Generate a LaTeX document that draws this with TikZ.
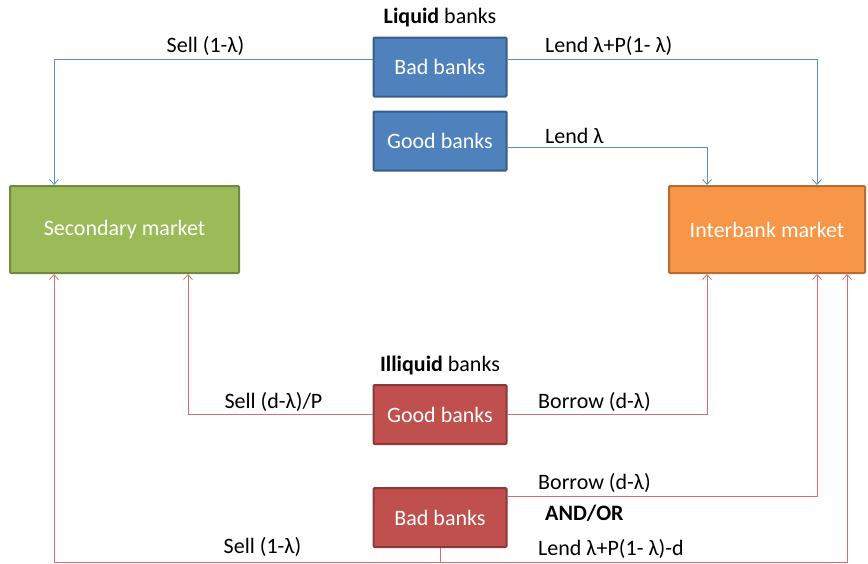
\documentclass[tikz,border=0pt]{standalone}
\usepackage{fontspec}
\setmainfont{Carlito}
\usetikzlibrary{arrows.meta}
\definecolor{bfill}{HTML}{4F81BD}
\definecolor{bdraw}{HTML}{385D8A}
\definecolor{rfill}{HTML}{C0504D}
\definecolor{rdraw}{HTML}{8C3836}
\definecolor{gfill}{HTML}{9BBB59}
\definecolor{gdraw}{HTML}{71893F}
\definecolor{ofill}{HTML}{F79646}
\definecolor{odraw}{HTML}{B66D31}
\definecolor{blinec}{HTML}{5B8BC9}
\definecolor{rlinec}{HTML}{D66F6C}
\begin{document}
\begin{tikzpicture}[x=1pt,y=-1pt,every node/.style={inner sep=0pt},
    font=\fontsize{22}{26}\selectfont,>={Straight Barb[length=5pt,width=9pt]},
    lbank/.style={fill=bfill,draw=bdraw,line width=2pt,text=white,
      minimum width=133pt,minimum height=59pt,rounded corners=1pt},
    ibank/.style={lbank,fill=rfill,draw=rdraw},
    market/.style={line width=2pt,text=white,minimum height=87pt,rounded corners=1pt},
    bline/.style={draw=blinec,line width=0.8pt},
    rline/.style={draw=rlinec,line width=0.8pt}]
  \useasboundingbox(0,0)rectangle(868,563);
  % boxes
  \node[lbank](badL)at(440,67){Bad banks};
  \node[lbank](goodL)at(440,141){Good banks};
  \node[market,fill=gfill,draw=gdraw,minimum width=229pt](sec)at(124.5,229.5){Secondary market};
  \node[market,fill=ofill,draw=odraw,minimum width=196pt](inter)at(767,229.5){Interbank market};
  \node[ibank](goodI)at(440,414.5){Good banks};
  \node[ibank](badI)at(440,517.5){Bad banks};
  % flows
  \draw[bline,->]([yshift=8pt]badL.west)-|([xshift=-70.5pt]sec.north);
  \draw[bline,->]([yshift=8pt]badL.east)-|([xshift=50pt]inter.north);
  \draw[bline,->]([yshift=-6pt]goodL.east)-|([xshift=-60pt]inter.north);
  \draw[rline,->](goodI.west)-|([xshift=63.5pt]sec.south);
  \draw[rline,->](goodI.east)-|([xshift=-60pt]inter.south);
  \draw[rline,->]([yshift=21.5pt]badI.east)-|([xshift=50pt]inter.south);
  \coordinate(bot)at(440,562);
  \draw[rline,->](badI.south)--(bot)-|([xshift=-70.5pt]sec.south);
  \draw[rline,->](bot)-|([xshift=80pt]inter.south);
  % labels
  \node(liq)at(440,18){\textbf{Liquid} banks};
  \node(sellA)at(205.5,46){Sell (1-λ)};
  \node[anchor=west](lendA)at(545,46){Lend λ+P(1- λ)};
  \node[anchor=west](lendB)at(545,136){Lend λ};
  \node(illiq)at(440,366){\textbf{Illiquid} banks};
  \node(sellB)at(273.5,402){Sell (d-λ)/P};
  \node[anchor=west](borA)at(538,402){Borrow (d-λ)};
  \node[anchor=west](borB)at(538,483){Borrow (d-λ)};
  \node[anchor=west](andor)at(545,513){\textbf{AND/OR}};
  \node(sellC)at(262.5,547){Sell (1-λ)};
  \node[anchor=west](lendC)at(538,549){Lend λ+P(1- λ)-d};
\end{tikzpicture}
\end{document}
